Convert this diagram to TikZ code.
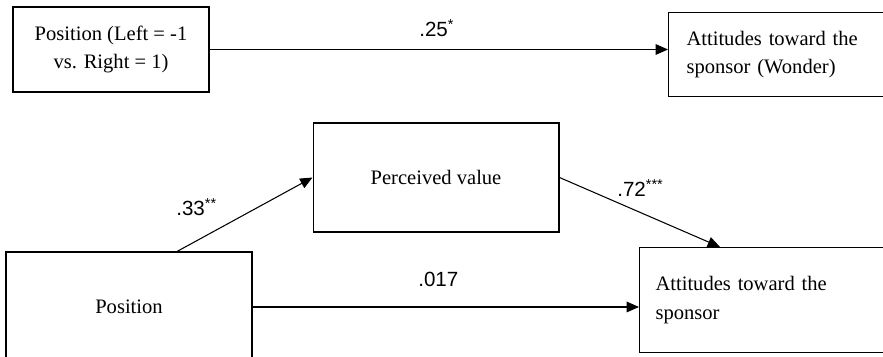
\documentclass[tikz,border=0pt]{standalone}
\usepackage{fontspec}
\setmainfont{Liberation Serif}
\newfontfamily\coeffont{Liberation Sans}
\usepackage{tikz}
\usetikzlibrary{%
	calc,%
	arrows.meta%
}

\begin{document}
\begin{tikzpicture}[x=0.02cm, y=-0.02cm,
		box/.style={draw, line width=0.6pt, font=\fontsize{11.7}{16}\selectfont, align=center},
		leftbox/.style={box, anchor=north west, align=left},
		coef/.style={anchor=base west, inner sep=0pt, font=\coeffont\fontsize{11.7}{14}\selectfont},
		effect/.style={line width=0.6pt, -{Triangle[length=7pt, width=6pt]}}
	]
	\clip (0,0) rectangle (883,357);

	% simple model
	\node[box, minimum width=3.92cm, minimum height=1.70cm] (pos) at (111,49.5) {Position (Left = -1\\vs. Right = 1)};
	\node[leftbox, minimum width=4.64cm, minimum height=1.68cm, text width=3.92cm, inner xsep=0.36cm] (attw) at (668,12) {Attitudes toward the\\sponsor (Wonder)};
	\draw[effect] (pos.east) -- (pos.east -| attw.west);
	\node[coef] (c25) at (419,37) {.25\textsuperscript{*}};

	% mediation model
	\node[box, minimum width=4.92cm, minimum height=2.18cm] (value) at (436,177.5) {Perceived value};
	\node[box, minimum width=4.92cm, minimum height=2.20cm] (posm) at (129,307) {Position};
	\node[leftbox, minimum width=5.2cm, minimum height=2.1cm, text width=4.56cm, inner xsep=0.32cm] (att) at (639,247) {Attitudes toward the\\sponsor};

	\draw[effect] ($(posm.north)+(48,0)$) -- (value.west);
	\draw[effect] (value.east) -- ($(att.north west)+(81,0)$);
	\draw[effect] (posm.east) -- (posm.east -| att.west);

	\node[coef] (c33) at (176,216) {.33\textsuperscript{**}};
	\node[coef] (c72) at (617,197) {.72\textsuperscript{***}};
	\node[coef] (c017) at (418,287) {.017};
\end{tikzpicture}
\end{document}
